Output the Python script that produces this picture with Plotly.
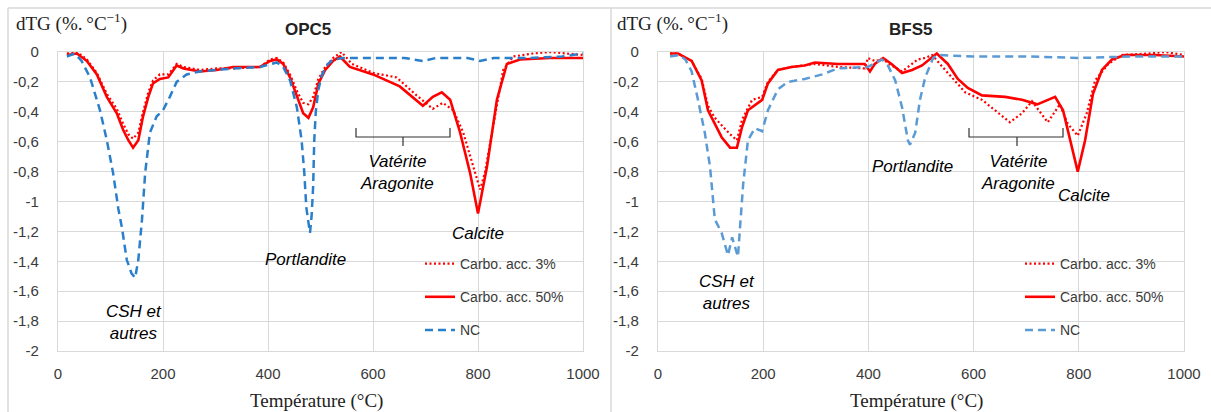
import plotly.graph_objects as go
from plotly.subplots import make_subplots

W, H = 1211, 412

# ---- OPC5 ----
opc_nc_t = [17, 32, 45, 61, 80, 93, 105, 115, 122, 131, 140, 147, 153, 160, 166, 175, 188, 200, 213, 226,
            245, 270, 302, 334, 385, 404, 417, 429, 442, 455, 464, 469, 473, 477, 480, 483, 486, 488, 491, 496,
            503, 514, 524, 543, 600, 660, 695, 720, 780, 804, 830, 900, 960, 1000]
opc_nc = [-0.03, -0.01, -0.06, -0.17, -0.39, -0.59, -0.81, -1.05, -1.18, -1.39, -1.48, -1.51, -1.39, -1.12, -0.81, -0.54, -0.43, -0.39, -0.3, -0.2,
          -0.15, -0.13, -0.12, -0.11, -0.1, -0.08, -0.07, -0.1, -0.19, -0.37, -0.59, -0.8, -1.04, -1.14, -1.21, -1.1, -0.9, -0.6, -0.4, -0.25,
          -0.15, -0.08, -0.05, -0.04, -0.04, -0.04, -0.06, -0.04, -0.04, -0.06, -0.04, -0.04, -0.03, -0.01]

opc_50_t = [17, 36, 55, 74, 93, 112, 124, 134, 143, 153, 162, 172, 181, 194, 210, 219, 226, 239, 270, 302,
            334, 385, 404, 417, 429, 442, 455, 467, 477, 486, 496, 509, 524, 537, 556, 600, 651, 695, 714, 731,
            747, 766, 785, 800, 817, 836, 855, 880, 937, 1000]
opc_50 = [-0.02, -0.01, -0.06, -0.15, -0.3, -0.41, -0.52, -0.59, -0.64, -0.59, -0.43, -0.3, -0.21, -0.18, -0.17, -0.12, -0.09, -0.11, -0.13, -0.12,
          -0.1, -0.1, -0.06, -0.05, -0.08, -0.17, -0.3, -0.41, -0.44, -0.37, -0.21, -0.12, -0.06, -0.03, -0.1, -0.15, -0.23, -0.36, -0.3, -0.27,
          -0.32, -0.54, -0.81, -1.08, -0.77, -0.32, -0.08, -0.05, -0.04, -0.04]

opc_3_t = [17, 36, 55, 74, 93, 112, 124, 134, 143, 153, 162, 172, 181, 194, 210, 219, 226, 239, 270, 302,
           334, 385, 404, 417, 429, 442, 455, 467, 477, 486, 496, 509, 524, 540, 560, 600, 645, 683, 714, 733,
           753, 772, 791, 804, 813, 829, 848, 867, 905, 937, 1000]
opc_3 = [-0.01, 0.0, -0.05, -0.14, -0.28, -0.38, -0.48, -0.55, -0.58, -0.54, -0.4, -0.27, -0.19, -0.15, -0.15, -0.11, -0.08, -0.1, -0.12, -0.11,
         -0.11, -0.1, -0.05, -0.04, -0.07, -0.15, -0.26, -0.34, -0.35, -0.3, -0.18, -0.1, -0.04, 0.0, -0.08, -0.14, -0.17, -0.29, -0.38, -0.34,
         -0.39, -0.54, -0.77, -0.92, -0.81, -0.5, -0.12, -0.03, -0.01, 0.0, -0.02]

# ---- BFS5 ----
bfs_nc_t = [23, 40, 52, 64, 76, 89, 99, 105, 108, 121, 128, 133, 141, 146, 152, 156, 160, 162, 171, 184,
            198, 209, 228, 247, 279, 312, 342, 399, 426, 437, 451, 464, 475, 479, 489, 498, 508, 523, 532, 600,
            700, 800, 900, 1000]
bfs_nc = [-0.03, -0.02, -0.05, -0.13, -0.32, -0.54, -0.77, -0.99, -1.12, -1.21, -1.3, -1.36, -1.24, -1.3, -1.37, -1.17, -0.99, -0.88, -0.59, -0.51,
          -0.53, -0.39, -0.25, -0.2, -0.18, -0.15, -0.11, -0.1, -0.05, -0.09, -0.19, -0.37, -0.59, -0.62, -0.54, -0.32, -0.17, -0.04, -0.02, -0.03,
          -0.03, -0.04, -0.03, -0.03]

bfs_50_t = [23, 38, 64, 83, 95, 108, 121, 137, 150, 160, 171, 198, 209, 228, 254, 279, 298, 342, 393, 403,
            412, 428, 444, 464, 483, 502, 517, 530, 551, 570, 589, 616, 660, 692, 721, 755, 770, 783, 798, 812,
            827, 844, 863, 888, 945, 1000]
bfs_50 = [-0.01, -0.01, -0.06, -0.19, -0.39, -0.48, -0.57, -0.64, -0.64, -0.5, -0.39, -0.32, -0.21, -0.12, -0.1, -0.09, -0.07, -0.08, -0.08, -0.13,
          -0.08, -0.04, -0.08, -0.14, -0.12, -0.09, -0.05, -0.01, -0.08, -0.18, -0.24, -0.29, -0.3, -0.32, -0.35, -0.3, -0.39, -0.59, -0.8, -0.59,
          -0.28, -0.12, -0.05, -0.02, -0.02, -0.03]

bfs_3_t = [23, 38, 64, 83, 95, 108, 121, 137, 150, 160, 179, 198, 209, 228, 254, 279, 298, 342, 393, 399,
           412, 428, 444, 464, 494, 508, 521, 551, 584, 616, 641, 669, 692, 711, 741, 764, 779, 798, 815, 831,
           856, 882, 932, 964, 1000]
bfs_3 = [-0.01, -0.01, -0.06, -0.18, -0.36, -0.44, -0.49, -0.55, -0.59, -0.45, -0.32, -0.3, -0.2, -0.12, -0.1, -0.09, -0.08, -0.1, -0.11, -0.04,
         -0.06, -0.05, -0.09, -0.13, -0.05, -0.04, -0.02, -0.14, -0.27, -0.32, -0.39, -0.47, -0.41, -0.33, -0.47, -0.35, -0.48, -0.56, -0.41, -0.19,
         -0.08, -0.02, -0.01, 0.0, -0.02]

series_names = ["Carbo. acc. 3%", "Carbo. acc. 50%", "NC"]
y_ticks = [0, -0.2, -0.4, -0.6, -0.8, -1, -1.2, -1.4, -1.6, -1.8, -2]
y_labels = ["0", "-0,2", "-0,4", "-0,6", "-0,8", "-1", "-1,2", "-1,4", "-1,6", "-1,8", "-2"]
x_ticks = [0, 200, 400, 600, 800, 1000]


def px(x):
    return x / W


def py(y):
    return 1 - y / H


RED = "#ff0000"
fig = make_subplots(rows=1, cols=2)

panels = [
    (1, "legend", [(opc_3_t, opc_3), (opc_50_t, opc_50), (opc_nc_t, opc_nc)], "#2a7fcb"),
    (2, "legend2", [(bfs_3_t, bfs_3), (bfs_50_t, bfs_50), (bfs_nc_t, bfs_nc)], "#5b9bd5"),
]
for col, leg, data, blue in panels:
    styles = [dict(color=RED, width=2.2, dash="2px,2.5px"),
              dict(color=RED, width=2.6),
              dict(color=blue, width=2.5, dash="8px,5px")]
    for i, ((t, v), st) in enumerate(zip(data, styles)):
        fig.add_trace(go.Scatter(x=t, y=v, mode="lines", name=series_names[i], line=st,
                                 legend=leg, legendgroup=f"{leg}{i}"), row=1, col=col)

grid = "#d9d9d9"
tick_font = dict(family="Liberation Sans, Arial", size=15, color="#3a3a3a")
fig.update_xaxes(range=[0, 1000], tickvals=x_ticks, showgrid=True, gridcolor=grid, gridwidth=1.3,
                 showline=True, mirror=True, linecolor=grid, linewidth=1.3, zeroline=False, automargin=False,
                 ticks="outside", ticklen=9, tickcolor="rgba(0,0,0,0)", tickfont=tick_font)
fig.update_yaxes(range=[-2, 0], tickvals=y_ticks, ticktext=y_labels, showgrid=True, gridcolor=grid, gridwidth=1.3,
                 showline=True, mirror=True, linecolor=grid, linewidth=1.3, zeroline=False, automargin=False,
                 ticks="outside", ticklen=15, tickcolor="rgba(0,0,0,0)", tickfont=tick_font)
fig.update_xaxes(domain=[px(58), px(583)], row=1, col=1)
fig.update_xaxes(domain=[px(658), px(1184)], row=1, col=2)
fig.update_yaxes(domain=[py(351), py(52)])

legend_style = dict(bgcolor="rgba(0,0,0,0)", borderwidth=0, traceorder="grouped", tracegroupgap=12,
                    font=dict(family="Liberation Sans, Arial", size=14, color="#3a3a3a"),
                    xanchor="left", yanchor="top")
fig.update_layout(
    width=W, height=H, margin=dict(l=0, r=0, t=0, b=0, autoexpand=False),
    paper_bgcolor="white", plot_bgcolor="white",
    legend=dict(x=px(420), y=py(248), **legend_style),
    legend2=dict(x=px(1020), y=py(248), **legend_style),
)

serif = "Liberation Serif, DejaVu Serif, serif"
italic = dict(family="Liberation Sans, Arial", size=17, color="black", style="italic")
notes = [
    ("<b>OPC5</b>", 308, 30, dict(family="Liberation Sans, Arial", size=17, color="#222")),
    ("<b>BFS5</b>", 910, 30, dict(family="Liberation Sans, Arial", size=17, color="#222")),
    ("Température (°C)", 316, 401, dict(family=serif, size=19, color="#222")),
    ("Température (°C)", 916, 401, dict(family=serif, size=19, color="#222")),
    ("CSH et<br>autres", 134, 322, italic),
    ("Portlandite", 305, 259, italic),
    ("Vatérite<br>Aragonite", 397, 172, italic),
    ("Calcite", 478, 233, italic),
    ("CSH et<br>autres", 727, 292, italic),
    ("Portlandite", 912, 167, italic),
    ("Vatérite<br>Aragonite", 1018, 172, italic),
    ("Calcite", 1084, 195, italic),
]
for text, x, y, font in notes:
    fig.add_annotation(text=text, x=px(x), y=py(y), xref="paper", yref="paper", showarrow=False,
                       xanchor="center", yanchor="middle", font=font, align="center")

for x0 in (14, 615):
    fig.add_annotation(text="dTG (%.\u2009°C<sup>\u22121</sup>)", x=px(x0), y=py(23), xref="paper", yref="paper",
                       showarrow=False, xanchor="left", yanchor="middle",
                       font=dict(family=serif, size=19, color="#222"))

# braces under the Vatérite / Aragonite labels
for x1, xm, x2 in ((356, 403, 450), (969, 1017, 1063)):
    path = (f"M {px(x1)},{py(128)} L {px(x1)},{py(137)} L {px(x2)},{py(137)} L {px(x2)},{py(128)} "
            f"M {px(xm)},{py(137)} L {px(xm)},{py(146)}")
    fig.add_shape(type="path", path=path, xref="paper", yref="paper", line=dict(color="#333", width=1.2))

# white area behind legends
for x1, x2 in ((404, 582), (1006, 1183)):
    fig.add_shape(type="rect", x0=px(x1), x1=px(x2), y0=py(349), y1=py(245), xref="paper", yref="paper",
                  fillcolor="white", line=dict(width=0), layer="between")

# outer frames
frame = dict(color="#d9d9d9", width=1.5)
fig.add_shape(type="line", x0=px(8), x1=1, y0=py(8), y1=py(8), xref="paper", yref="paper", line=frame)
fig.add_shape(type="line", x0=px(8), x1=px(8), y0=py(8), y1=0, xref="paper", yref="paper", line=frame)
fig.add_shape(type="line", x0=px(611), x1=px(611), y0=py(8), y1=0, xref="paper", yref="paper", line=frame)

fig.write_html("out.html", config={"displayModeBar": False},
               post_script="document.body.style.margin='0';")
